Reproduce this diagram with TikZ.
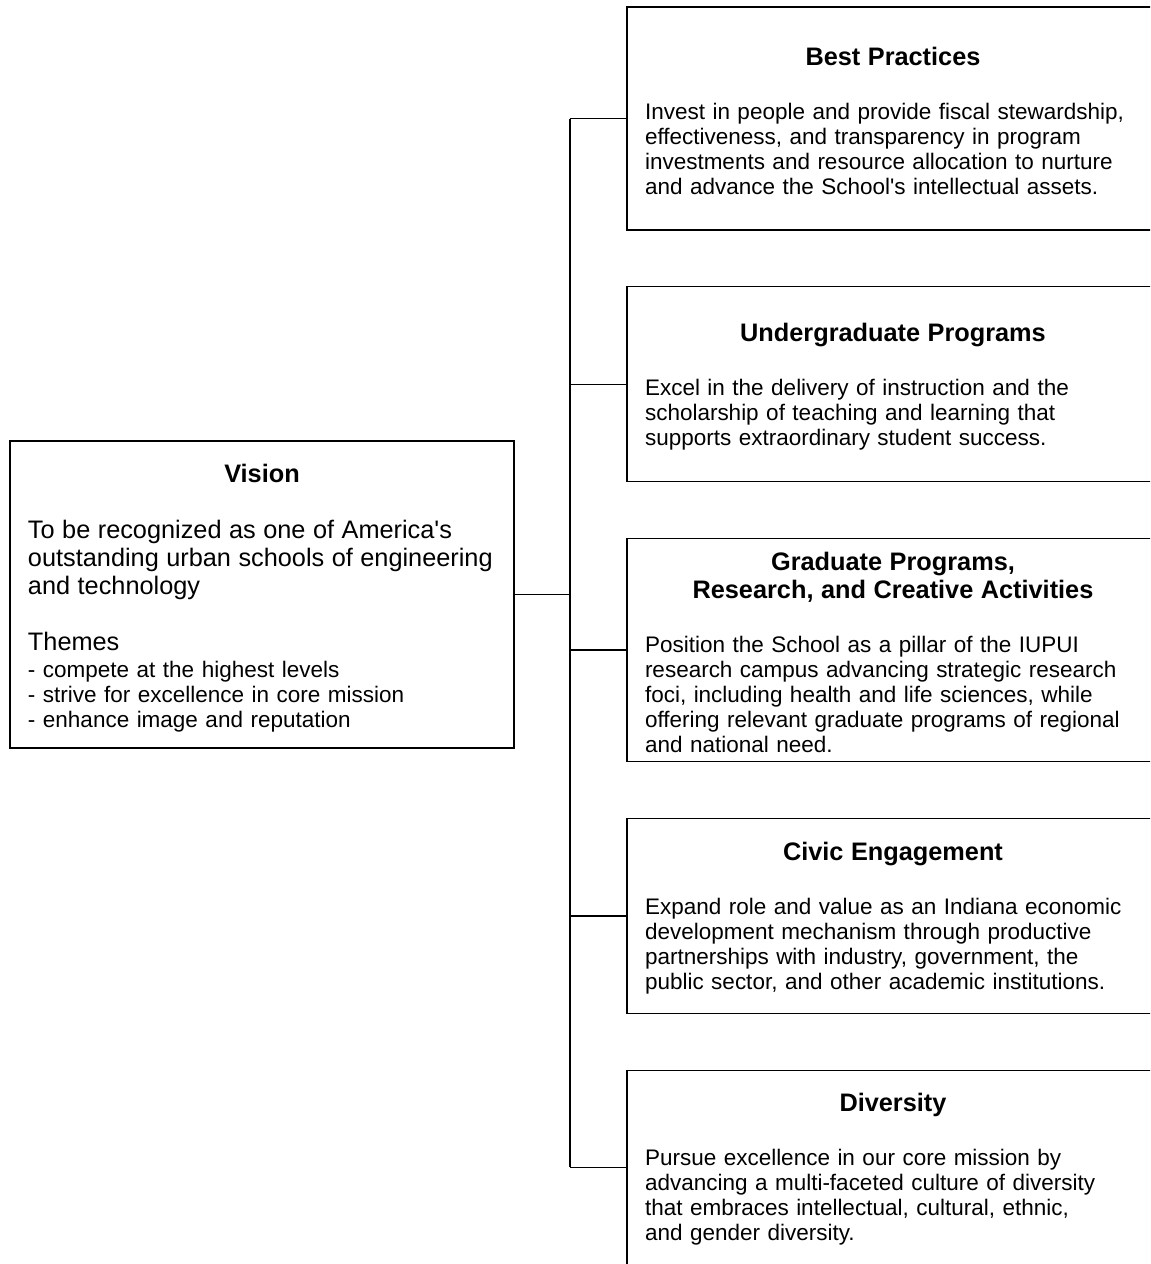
\documentclass[tikz,border=0pt]{standalone}
\usepackage{fontspec}
\setmainfont{Liberation Sans}
\usetikzlibrary{positioning}
\newcommand{\boxhead}[2][13pt]{{\centering\fontsize{14.4}{15.9}\selectfont\bfseries\rule{0pt}{#1}#2\par}\vspace{16.5pt}}
\tikzset{
  blk/.style={draw, rectangle, line width=0.75pt, minimum width=10.64cm, text width=9.92cm, inner xsep=0.36cm, align=left, font=\fontsize{12.8}{14.2}\selectfont},
  vblk/.style={draw, rectangle, line width=0.75pt, minimum width=10.08cm, minimum height=6.14cm, text width=9.36cm, inner xsep=0.36cm, align=left, font=\fontsize{12.8}{14.2}\selectfont},
  conn/.style={line width=0.75pt},
}
\begin{document}
\begin{tikzpicture}[node distance=1.11cm]
\useasboundingbox (0,0) rectangle (23,-25.28);
\clip (0,0) rectangle (23,-25.28);

\node[vblk] (vision) at (5.24,-11.89)
  {\boxhead[14.5pt]{Vision}
   {\fontsize{14.4}{15.7}\selectfont To be recognized as one of America\textquotesingle s\\
   outstanding urban schools of engineering\\
   and technology\par}\vspace{16.2pt}
   {\fontsize{14.4}{15.7}\selectfont Themes\par}\vspace{1.4pt}
   - compete at the highest levels\\
   - strive for excellence in core mission\\
   - enhance image and reputation};

\node[blk, minimum height=4.46cm] (best) at (17.86,-2.37)
  {\boxhead{Best Practices}
   Invest in people and provide fiscal stewardship,\\
   effectiveness, and transparency in program\\
   investments and resource allocation to nurture\\
   and advance the School\textquotesingle s intellectual assets.};

\node[blk, below=of best, minimum height=3.9cm] (ugrad)
  {\boxhead{Undergraduate Programs}
   Excel in the delivery of instruction and the\\
   scholarship of teaching and learning that\\
   supports extraordinary student success.};

\node[blk, below=of ugrad, minimum height=4.46cm] (grad)
  {\boxhead{Graduate Programs,\\Research, and Creative Activities}
   Position the School as a pillar of the IUPUI\\
   research campus advancing strategic research\\
   foci, including health and life sciences, while\\
   offering relevant graduate programs of regional\\
   and national need.};

\node[blk, below=of grad, minimum height=3.9cm] (civic)
  {\boxhead{Civic Engagement}
   Expand role and value as an Indiana economic\\
   development mechanism through productive\\
   partnerships with industry, government, the\\
   public sector, and other academic institutions.};

\node[blk, below=of civic, minimum height=3.88cm] (div)
  {\boxhead{Diversity}
   Pursue excellence in our core mission by\\
   advancing a multi-faceted culture of diversity\\
   that embraces intellectual, cultural, ethnic,\\
   and gender diversity.};

\coordinate (bus) at (11.4,0);

\draw[conn] (vision.east) -- (vision.east -| bus);
\draw[conn] (best.west -| bus) -- (div.west -| bus);
\draw[conn] (best.west) -- (best.west -| bus);
\draw[conn] (ugrad.west) -- (ugrad.west -| bus);
\draw[conn] (grad.west) -- (grad.west -| bus);
\draw[conn] (civic.west) -- (civic.west -| bus);
\draw[conn] (div.west) -- (div.west -| bus);

\end{tikzpicture}
\end{document}
